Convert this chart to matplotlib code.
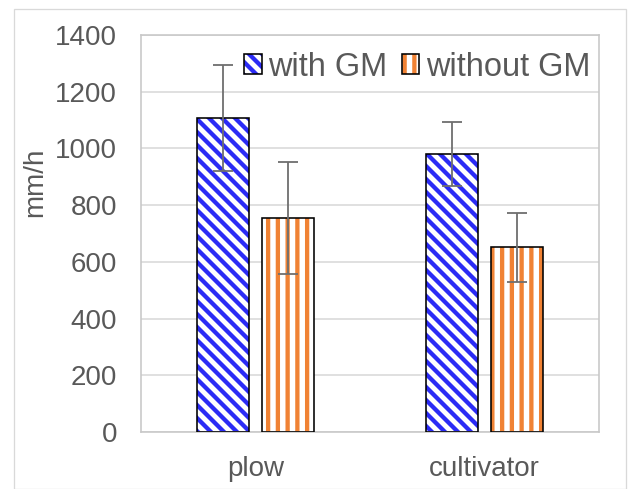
import matplotlib
matplotlib.use("Agg")
import matplotlib.pyplot as plt
from matplotlib.patches import Patch, Rectangle
from matplotlib.legend_handler import HandlerTuple

categories = ["plow", "cultivator"]
with_gm = [1107, 980]
with_gm_err = [187, 112]
without_gm = [755, 652]
without_gm_err = [197, 122]
y_ticks = [0, 200, 400, 600, 800, 1000, 1200, 1400]

BLUE = "#2B2BF5"
ORANGE = "#F08234"
TEXT = "#595959"

# high dpi so the hatch spacing comes out close to the original
DPI = 234
W, H = 630, 489


def pt(px):
    # pixels -> points at this dpi
    return px * 72 / DPI


plt.rcParams["font.family"] = ["Liberation Sans", "DejaVu Sans"]
plt.rcParams["hatch.linewidth"] = pt(4.3)

fig = plt.figure(figsize=(W / DPI, H / DPI), dpi=DPI)
fig.patches.append(Rectangle((14 / W, 0), 612 / W, 480 / H,
                             transform=fig.transFigure, fill=False,
                             edgecolor="#D9D9D9", linewidth=pt(1.3)))
ax = fig.add_axes([141 / W, 57 / H, 458 / W, 397 / H])

x = range(len(categories))
w = 0.227
off = 0.142
xs1 = [i - off for i in x]
xs2 = [i + off for i in x]
HB = "\\" * 6
HO = "||||"

# hatched fill first, black outline on top
ax.bar(xs1, with_gm, w, color="white", edgecolor=BLUE, hatch=HB, linewidth=0, zorder=2)
ax.bar(xs1, with_gm, w, fill=False, edgecolor="black", linewidth=pt(1.6), zorder=3)
ax.bar(xs2, without_gm, w, color="white", edgecolor=ORANGE, hatch=HO, linewidth=0, zorder=2)
ax.bar(xs2, without_gm, w, fill=False, edgecolor="black", linewidth=pt(1.6), zorder=3)

ecfg = dict(fmt="none", ecolor="#6E6E6E", elinewidth=pt(1.8), capsize=pt(10),
            capthick=pt(1.8), zorder=4)
ax.errorbar(xs1, with_gm, yerr=with_gm_err, **ecfg)
ax.errorbar(xs2, without_gm, yerr=without_gm_err, **ecfg)

ax.set_xlim(-0.5, 1.5)
ax.set_ylim(0, 1400)
ax.set_yticks(y_ticks)
ax.set_xticks(list(x))
ax.set_xticklabels(categories)
ax.tick_params(length=0, labelsize=pt(27.8), colors=TEXT)
ax.tick_params(axis="y", pad=pt(24))
ax.tick_params(axis="x", pad=pt(24))
ax.yaxis.grid(True, color="#D9D9D9", linewidth=pt(1.6), zorder=0)
ax.set_axisbelow(True)
for s in ax.spines.values():
    s.set_color("#C8C8C8")
    s.set_linewidth(pt(1.6))
ax.set_ylabel("mm/h", fontsize=pt(27.8), color=TEXT)
ax.yaxis.set_label_coords(-0.203, 0.63)

h1 = (Patch(facecolor="white", edgecolor=BLUE, hatch=HB, linewidth=0),
      Patch(fill=False, edgecolor="black", linewidth=pt(1.6)))
h2 = (Patch(facecolor="white", edgecolor=ORANGE, hatch=HO, linewidth=0),
      Patch(fill=False, edgecolor="black", linewidth=pt(1.6)))
leg = ax.legend([h1, h2], ["with GM", "without GM"], ncol=2, frameon=False,
                handler_map={tuple: HandlerTuple(ndivide=1)},
                fontsize=pt(32.6), handlelength=0.53, handleheight=0.53,
                handletextpad=0.21, columnspacing=0.43, borderpad=0,
                loc="center right", bbox_to_anchor=((590 - 141) / 458, 1 - 32 / 397),
                borderaxespad=0)
for t in leg.get_texts():
    t.set_color(TEXT)

fig.savefig("out.png", dpi=DPI)
